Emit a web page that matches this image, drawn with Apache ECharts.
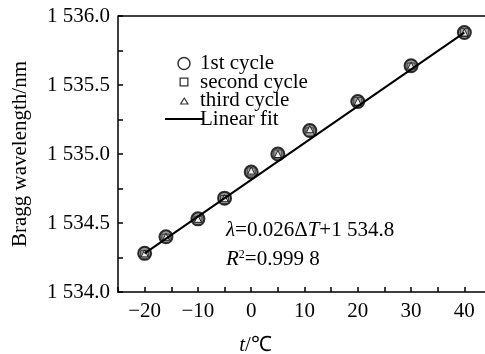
<!DOCTYPE html>
<html><head><meta charset="utf-8">
<script src="https://cdn.jsdelivr.net/npm/echarts@6/dist/echarts.min.js"></script>
<style>html,body{margin:0;padding:0;background:#fff}#c{width:485px;height:354px}</style>
</head><body><div id="c"></div>
<script>
const temps = [-20, -16, -10, -5, 0, 5, 11, 20, 30, 40];
const cycle1 = [1534.28, 1534.40, 1534.53, 1534.68, 1534.87, 1535.00, 1535.17, 1535.38, 1535.64, 1535.88];
const cycle2 = [1534.27, 1534.39, 1534.52, 1534.67, 1534.87, 1535.00, 1535.16, 1535.38, 1535.63, 1535.88];
const cycle3 = [1534.28, 1534.40, 1534.53, 1534.68, 1534.88, 1535.00, 1535.18, 1535.38, 1535.64, 1535.88];
const fitX = [-20, 40];
const fitY = [1534.28, 1535.88];
const yTickLabels = {"1534":"1 534.0","1534.5":"1 534.5","1535":"1 535.0","1535.5":"1 535.5","1536":"1 536.0"};
const legendNames = ["1st cycle", "second cycle", "third cycle", "Linear fit"];

const font = "Liberation Serif";
const FS = 21;
const BOX = 'M0,0 L0.01,0 L0,0.01 Z M38,12 L37.99,12 L38,11.99 Z ';
const chart = echarts.init(document.getElementById('c'));
const pair = (xs, ys) => xs.map((x, i) => [x, ys[i]]);
chart.setOption({
  animation: false,
  grid: {left: 118, top: 16, width: 373, height: 276, containLabel: false, outerBoundsMode: 'none'},
  xAxis: {
    type: 'value', min: -25, max: 45, interval: 5,
    axisLine: {show: true, onZero: false, lineStyle: {color: '#000', width: 1.5}},
    axisTick: {show: true, inside: true, length: 5, lineStyle: {color: '#000', width: 1.5}},
    axisLabel: {
      color: '#000', fontFamily: font, fontSize: FS, margin: 9,
      formatter: v => (v % 10 === 0 && v >= -20 && v <= 40) ? String(v).replace('-', '\u2212') : ''
    },
    splitLine: {show: false},
    name: '{i|t}/℃', nameLocation: 'middle', nameGap: 43,
    nameTextStyle: {color: '#000', fontFamily: font, fontSize: FS, padding: [0, 98, 0, 0],
      rich: {i: {fontStyle: 'italic', fontFamily: font, fontSize: FS, color: '#000'}}}
  },
  yAxis: {
    type: 'value', min: 1534, max: 1536, interval: 0.25,
    axisLine: {show: true, onZero: false, lineStyle: {color: '#000', width: 1.5}},
    axisTick: {show: true, inside: true, length: 5, lineStyle: {color: '#000', width: 1.5}},
    axisLabel: {
      color: '#000', fontFamily: font, fontSize: FS, margin: 8,
      formatter: v => { const k = String(+v.toFixed(2)); return yTickLabels[k] || ''; }
    },
    splitLine: {show: false},
    name: 'Bragg wavelength/nm', nameLocation: 'middle', nameGap: 87,
    nameTextStyle: {color: '#000', fontFamily: font, fontSize: FS}
  },
  legend: {
    show: true, orient: 'vertical', left: 160, top: 48, itemGap: -2.5, itemWidth: 38, itemHeight: 12,
    data: [
      {name: legendNames[0], icon: 'circle', itemStyle: {color: '#fff', borderColor: '#000', borderWidth: 1.5}},
      {name: legendNames[1], icon: 'path://' + BOX + 'M14.5,1.5 L23.5,1.5 L23.5,10.5 L14.5,10.5 Z M15.8,2.8 L15.8,9.2 L22.2,9.2 L22.2,2.8 Z', itemStyle: {color: '#000', borderWidth: 0}},
      {name: legendNames[2], icon: 'path://' + BOX + 'M14.5,10 L24,10 L19.25,2.5 Z M16.6,8.9 L19.25,4.6 L21.9,8.9 Z', itemStyle: {color: '#000', borderWidth: 0}},
      {name: legendNames[3], icon: 'path://' + BOX + 'M0,5 L38,5 L38,7 L0,7 Z', itemStyle: {color: '#000', borderWidth: 0}}
    ],
    textStyle: {color: '#000', fontFamily: font, fontSize: FS, padding: [0, 0, 0, -8], lineHeight: 18.5},
  },
  graphic: [
    {type: 'line', z: 10, shape: {x1: 118, y1: 16, x2: 485, y2: 16}, style: {stroke: '#000', lineWidth: 1.5}},
    {type: 'text', left: 226, top: 220, style: {
      text: '{g|λ}=0.026Δ{i|T}+1 534.8', fill: '#000', font: FS + 'px "Liberation Serif"',
      rich: {g: {fontStyle: 'italic', fontFamily: font, fontSize: FS}, i: {fontStyle: 'italic', fontFamily: font, fontSize: FS}}
    }},
    {type: 'text', left: 226, top: 249, style: {
      text: '{i|R}{s|2}=0.999 8', fill: '#000', font: FS + 'px "Liberation Serif"',
      rich: {i: {fontStyle: 'italic', fontFamily: font, fontSize: FS}, s: {fontFamily: font, fontSize: 12, verticalAlign: 'top', padding: [0, 0, 9, 0]}}
    }}
  ],
  series: [
    {name: '1st cycle', type: 'scatter', data: pair(temps, cycle1), symbol: 'circle', symbolSize: 13,
      itemStyle: {color: '#7a7a7a', borderColor: '#000', borderWidth: 2}, z: 3},
    {name: 'second cycle', type: 'scatter', data: pair(temps, cycle2), symbol: 'rect', symbolSize: 8,
      itemStyle: {color: '#a8a8a8', borderColor: '#222', borderWidth: 1}, z: 4},
    {name: 'third cycle', type: 'scatter', data: pair(temps, cycle3), symbol: 'triangle', symbolSize: 7,
      itemStyle: {color: '#fff', borderColor: '#000', borderWidth: 1}, z: 5},
    {name: 'Linear fit', type: 'line', data: pair(fitX, fitY), symbol: 'none',
      lineStyle: {color: '#000', width: 2}, itemStyle: {color: '#000'}, z: 6}
  ]
});
</script></body></html>
